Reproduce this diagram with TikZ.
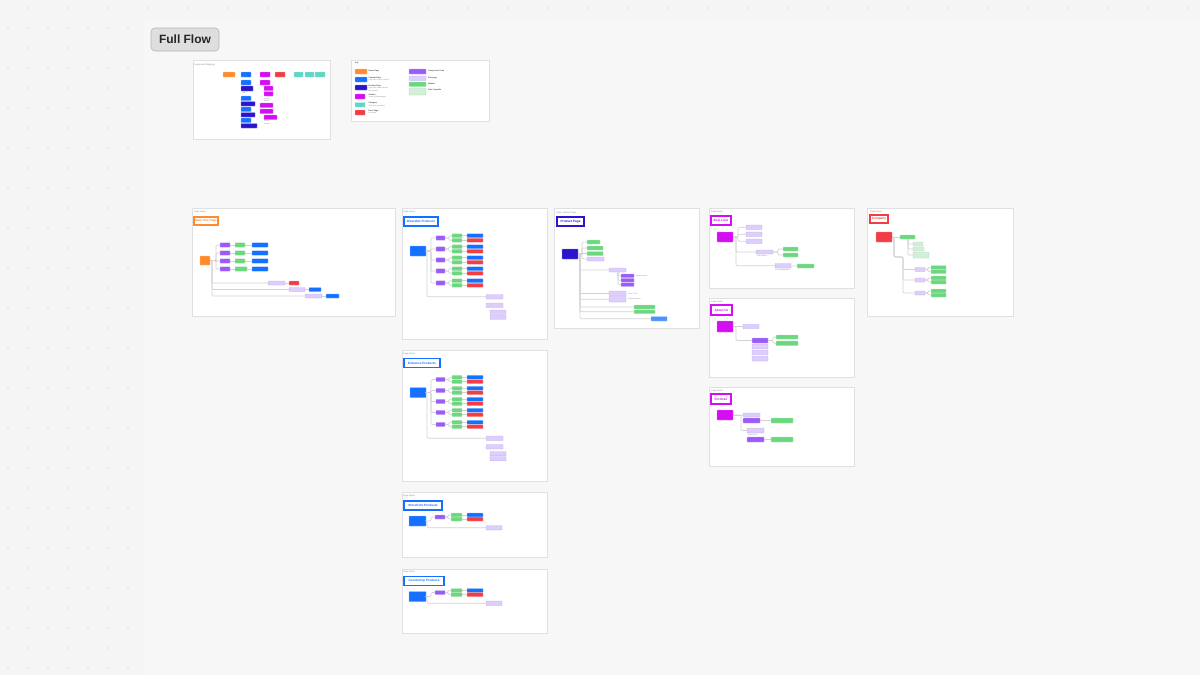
\documentclass[tikz,border=0pt]{standalone}
\usepackage{fontspec}
\setmainfont{Liberation Sans}
\usetikzlibrary{calc}
\definecolor{bgC}{HTML}{F5F5F5}
\definecolor{mainC}{HTML}{F7F7F7}
\definecolor{dotC}{HTML}{C4C4C4}
\definecolor{frameC}{HTML}{E0E0E0}
\definecolor{lineC}{HTML}{D2D2D2}
\definecolor{capC}{HTML}{8A8A8A}
\definecolor{orgC}{HTML}{FF8B2E}
\definecolor{bluC}{HTML}{1570FF}
\definecolor{drkC}{HTML}{2A14CC}
\definecolor{magC}{HTML}{D40DF2}
\definecolor{redC}{HTML}{F03E44}
\definecolor{tealC}{HTML}{5FD6C6}
\definecolor{purC}{HTML}{9A5BF8}
\definecolor{lavC}{HTML}{DDCEFC}
\definecolor{lavD}{HTML}{C4ADF7}
\definecolor{grnC}{HTML}{6CD77E}
\definecolor{lgrC}{HTML}{D3EFD9}
\definecolor{lgrD}{HTML}{A9DDB5}
\definecolor{lbC}{HTML}{4B95F7}
\definecolor{ffC}{HTML}{DEDEDE}
\definecolor{ffD}{HTML}{B5B5B5}
\tikzset{
  box/.style={inner sep=0pt, outer sep=0pt, rounded corners=0.5pt, line width=0.35pt},
  bO/.style={fill=orgC, draw=orgC!55},
  bB/.style={fill=bluC, draw=bluC!55},
  bD/.style={fill=drkC, draw=drkC!55},
  bM/.style={fill=magC, draw=magC!55},
  bR/.style={fill=redC, draw=redC!55},
  bT/.style={fill=tealC, draw=tealC!60},
  bP/.style={fill=purC, draw=purC!55},
  bL/.style={fill=lavC, draw=lavD},
  bG/.style={fill=grnC, draw=grnC!55},
  bLG/.style={fill=lgrC, draw=lgrD},
  bLB/.style={fill=lbC, draw=lbC!55},
  conn/.style={draw=lineC, line width=0.65pt, rounded corners=1.2pt},
  panel/.style={fill=white, draw=frameC, line width=0.6pt},
  pcap/.style={font=\fontsize{2.2}{2.5}\selectfont, text=capC, inner sep=0pt, anchor=west},
  tbox/.style={fill=white, line width=1.4pt, inner sep=0pt, outer sep=0pt, font=\bfseries\fontsize{3.1}{3.5}\selectfont},
  tiny/.style={font=\fontsize{1.7}{2}\selectfont, text=capC, inner sep=0pt, anchor=west},
  klab/.style={font=\bfseries\fontsize{1.9}{2.2}\selectfont, text=black!75, inner sep=0pt, anchor=west},
}
\newcommand\bx[6]{\node[box,#1,minimum width={(#5)-(#3)},minimum height={(#6)-(#4)}] (#2) at ({((#3)+(#5))/2},{((#4)+(#6))/2}) {};}
\newcommand\ttl[7]{\node[tbox,draw=#2,text=#2,minimum width={(#5)-(#3)},minimum height={(#6)-(#4)}] (#1) at ({((#3)+(#5))/2},{((#4)+(#6))/2}) {#7};}
\newcommand\prodpanel[4]{%
  \begin{scope}[shift={(0,#2)}]
  \node[pcap] (#1Cap) at (403,212) {Page Name};
  \ttl{#1Ti}{bluC}{404}{217}{#4}{226}{#3}
  \bx{bB}{#1R}{410}{246}{426}{256}
  \coordinate (#1T1) at (431,0);
  \coordinate (#1T2) at (427,0);
  \coordinate (#1T3) at (449,0);
  \foreach \n/\y in {1/238,2/249,3/260,4/271,5/283} {
    \bx{bP}{#1P\n}{436}{\y-2.2}{445}{\y+2.2}
    \bx{bG}{#1Ga\n}{452}{\y-4.2}{462}{\y-0.3}
    \bx{bG}{#1Gb\n}{452}{\y+0.3}{462}{\y+4.2}
    \bx{bB}{#1Xa\n}{467}{\y-4.2}{483}{\y-0.3}
    \bx{bR}{#1Xb\n}{467}{\y+0.3}{483}{\y+4.2}
    \draw[conn] (#1R.east) -- (#1R.east -| #1T1) |- (#1P\n.west);
    \draw[conn] (#1P\n.east) -- (#1P\n.east -| #1T3) |- (#1Ga\n.west);
    \draw[conn] (#1P\n.east) -- (#1P\n.east -| #1T3) |- (#1Gb\n.west);
    \draw[conn] (#1Ga\n) -- (#1Xa\n);
    \draw[conn] (#1Gb\n) -- (#1Xb\n);
  }
  \bx{bL}{#1L1}{486}{294.5}{503}{299}
  \bx{bL}{#1L2}{486}{303}{503}{307.5}
  \bx{bL}{#1L3}{490}{310}{506}{314.3}
  \bx{bL}{#1L4}{490}{315}{506}{319.3}
  \draw[conn] (#1R.east) -- (#1R.east -| #1T2) |- (#1L1.west);
  \end{scope}}
\newcommand\smallpanel[4]{%
  \begin{scope}[shift={(0,#2)}]
  \node[pcap] (#1Cap) at (403,496) {Page Name};
  \ttl{#1Ti}{bluC}{404}{501}{#4}{510}{#3}
  \bx{bB}{#1R}{409}{516}{426}{526}
  \coordinate (#1T1) at (431,0);
  \coordinate (#1T2) at (427,0);
  \coordinate (#1T3) at (448,0);
  \bx{bP}{#1P}{435}{515}{445}{519}
  \bx{bG}{#1Ga}{451}{513}{462}{516.8}
  \bx{bG}{#1Gb}{451}{517.2}{462}{521}
  \bx{bB}{#1Xa}{467}{513}{483}{516.8}
  \bx{bR}{#1Xb}{467}{517.2}{483}{521}
  \bx{bL}{#1L}{486}{525.5}{502}{530}
  \draw[conn] (#1R.east) -- (#1R.east -| #1T1) |- (#1P.west);
  \draw[conn] (#1P.east) -- (#1P.east -| #1T3) |- (#1Ga.west);
  \draw[conn] (#1P.east) -- (#1P.east -| #1T3) |- (#1Gb.west);
  \draw[conn] (#1Ga) -- (#1Xa);
  \draw[conn] (#1Gb) -- (#1Xb);
  \draw[conn] (#1R.east) -- (#1R.east -| #1T2) |- (#1L.west);
  \end{scope}}
\begin{document}
\begin{tikzpicture}[x=1pt,y=-1pt]
\useasboundingbox (0,0) rectangle (1200,675);
\fill[bgC] (0,0) rectangle (1200,675);
\fill[mainC] (143,20) rectangle (1200,675);
\foreach \i in {0,...,59} \fill[dotC] (\i*20+8,8) circle[radius=0.7pt];
\foreach \i in {0,...,6} \foreach \j in {1,...,33} \fill[dotC] (\i*20+8,\j*20+8) circle[radius=0.7pt];

% Full Flow label
\node[fill=ffC, draw=ffD, line width=0.6pt, rounded corners=4pt, minimum width=68pt, minimum height=23pt, inner sep=0pt, font=\bfseries\fontsize{12}{14}\selectfont, text=black!85] (ff) at (185,39.5) {Full Flow};

% panels
\foreach \a/\b/\c/\d in {193/60/330/139, 351/60/489/121, 192/208/395/316, 402/208/547/339, 554/208/699/328, 709/208/854/288, 709/298/854/377, 709/387/854/466, 867/208/1013/316, 402/350/547/481, 402/492/547/557, 402/569/547/633}
  \filldraw[panel] (\a,\b) rectangle (\c,\d);

% Component mapping
\node[pcap] (cmCap) at (194,64.5) {Component Mapping};
\bx{bO}{cm1}{223}{72}{235}{77}
\bx{bB}{cm2}{241}{72}{251}{77}
\bx{bM}{cm3}{260}{72}{270}{77}
\bx{bR}{cm4}{275}{72}{285}{77}
\bx{bT}{cm5}{294}{72}{303}{77}
\bx{bT}{cm6}{305}{72}{314}{77}
\bx{bT}{cm7}{315}{72}{325}{77}
\bx{bB}{cmb1}{241}{80}{251}{85}
\bx{bD}{cmb2}{241}{86}{253}{91}
\node[tiny] (cmt1) at (242,93) {Link};
\bx{bB}{cmb3}{241}{96}{251}{100.5}
\bx{bD}{cmb4}{241}{101.5}{255}{106}
\bx{bB}{cmb5}{241}{107}{251}{111.5}
\bx{bD}{cmb6}{241}{112.5}{255}{117}
\bx{bB}{cmb7}{241}{118}{251}{122.5}
\bx{bD}{cmb8}{241}{123.5}{257}{128}
\bx{bM}{cmm1}{260}{80}{270}{85}
\bx{bM}{cmm2}{264}{86}{273}{90.5}
\bx{bM}{cmm3}{264}{91.5}{273}{96}
\node[tiny] (cmt2) at (264,98.5) {Section};
\node[tiny] (cmt3) at (264,100.8) {Details};
\bx{bM}{cmm4}{260}{103}{273}{107.5}
\bx{bM}{cmm5}{260}{109}{273}{113.5}
\bx{bM}{cmm6}{264}{115}{277}{119.5}
\node[tiny] (cmt4) at (264,121.3) {Section};
\node[tiny] (cmt5) at (264,123.6) {Details};

% Key
\node[klab] (kT) at (355,63.5) {Key};
\bx{bO}{k1}{355}{69}{367}{74}
\node[klab] (k1t) at (368.5,71) {Home Page};
\bx{bB}{k2}{355}{77}{367}{82}
\node[klab] (k2t) at (368.5,78) {Content Page};
\node[tiny] (k2s) at (368.5,80.3) {Page with content sections};
\bx{bD}{k3}{355}{85}{367}{90}
\node[klab] (k3t) at (368.5,86) {Product Page};
\node[tiny] (k3s) at (368.5,88.3) {Page with product details};
\node[tiny] (k3u) at (368.5,90.5) {and variants};
\bx{bM}{k4}{355}{94}{365}{99}
\node[klab] (k4t) at (368.5,95) {Section};
\node[tiny] (k4s) at (368.5,97.3) {Group of related pages};
\bx{bT}{k5}{355}{102.5}{365}{107}
\node[klab] (k5t) at (368.5,103.5) {Category};
\node[tiny] (k5s) at (368.5,105.8) {Collection of products};
\bx{bR}{k6}{355}{110}{365}{115}
\node[klab] (k6t) at (368.5,111) {Error Page};
\node[tiny] (k6s) at (368.5,113.3) {Not found};
\bx{bP}{k7}{409}{69}{426}{74}
\node[klab] (k7t) at (428,71) {Component / Link};
\bx{bL}{k8}{409}{76}{426}{80.5}
\node[klab] (k8t) at (428,78) {Sub-page};
\bx{bG}{k9}{409}{82}{426}{86.5}
\node[klab] (k9t) at (428,84) {Module};
\bx{bLG}{k10}{409}{88}{426}{95}
\node[klab] (k10t) at (428,90) {Data / Variable};

% Panel A
\node[pcap] (aCap) at (194,212) {Page Name};
\ttl{aTi}{orgC}{194}{217}{218}{225}{Main Use Page}
\bx{bO}{aR}{200}{256}{210}{265}
\coordinate (aT1) at (216,0);
\coordinate (aT2) at (212,0);
\foreach \n/\y/\gw in {1/245/245,2/253/245,3/261/245,4/269/247} {
  \bx{bP}{aP\n}{220}{\y-2.2}{230}{\y+2.2}
  \bx{bG}{aG\n}{235}{\y-2.2}{\gw}{\y+2.2}
  \bx{bB}{aB\n}{252}{\y-2.2}{268}{\y+2.2}
  \draw[conn] (aR.east) -- (aR.east -| aT1) |- (aP\n.west);
  \draw[conn] (aP\n) -- (aG\n);
  \draw[conn] (aG\n) -- (aB\n);
}
\bx{bL}{aL1}{268}{281}{285}{285}
\bx{bR}{aX1}{289}{281}{299}{285}
\bx{bL}{aL2}{289}{287.5}{305}{291.5}
\bx{bB}{aX2}{309}{287.5}{321}{291.5}
\bx{bL}{aL3}{305}{294}{322}{298}
\bx{bB}{aX3}{326}{294}{339}{298}
\foreach \n in {1,2,3} {
  \draw[conn] (aR.east) -- (aR.east -| aT2) |- (aL\n.west);
  \draw[conn] (aL\n) -- (aX\n);
}

% Product panels
\prodpanel{b}{0}{Wearable Products}{438}
\prodpanel{g}{141.5}{Entrance Products}{440}
\smallpanel{h}{0}{Storefront Products}{442}
\smallpanel{k}{75.5}{Countertop Products}{444}

% Panel C
\node[pcap] (cCap) at (556,212.5) {Page: Product Page};
\ttl{cTi}{drkC}{557}{217}{584}{226}{Product Page}
\bx{bD}{cR}{562}{249}{578}{259}
\coordinate (cT1) at (582,0);
\coordinate (cT2) at (580,0);
\coordinate (cT3) at (618,0);
\bx{bG}{cA1}{587}{240}{600}{244}
\bx{bG}{cA2}{587}{246}{603}{250}
\bx{bG}{cA3}{587}{251.5}{603}{255.5}
\bx{bL}{cA4}{587}{257}{604}{261}
\foreach \n in {1,...,4} \draw[conn] (cR.east) -- (cR.east -| cT1) |- (cA\n.west);
\bx{bL}{cB1}{609}{268}{626}{272}
\bx{bP}{cP1}{621}{274}{634}{277.6}
\bx{bP}{cP2}{621}{278.4}{634}{282}
\bx{bP}{cP3}{621}{282.8}{634}{286.4}
\foreach \n in {1,2,3} \draw[conn] (cB1.south -| cT3) |- (cP\n.west);
\node[tiny] (cPt) at (636,276) {Variant options};
\bx{bL}{cB2}{609}{291}{626}{296}
\bx{bL}{cB3}{609}{296.5}{626}{302}
\node[tiny] (cB2t) at (628,293.5) {Price / Total};
\node[tiny] (cB3t) at (628,299.5) {Quantity selector};
\bx{bG}{cG1}{634}{305}{655}{309}
\bx{bG}{cG2}{634}{310}{655}{313.5}
\bx{bLB}{cX}{651}{316.5}{667}{321}
\foreach \m in {cB1,cB2,cB3,cG1,cG2,cX} \draw[conn] (cR.east) -- (cR.east -| cT2) |- (\m.west);

% Panel D1
\node[pcap] (dCap) at (711,212) {Page Name};
\ttl{dTi}{magC}{711}{216}{731}{225}{Best Lists}
\bx{bM}{dR}{717}{232}{733}{242}
\coordinate (dT1) at (738,0);
\coordinate (dT2) at (736,0);
\coordinate (dT3) at (778,0);
\bx{bL}{dA1}{746}{225}{762}{229.5}
\bx{bL}{dA2}{746}{232}{762}{236.5}
\bx{bL}{dA3}{746}{239}{762}{243.5}
\foreach \n in {1,2,3} \draw[conn] (dR.east) -- (dR.east -| dT1) |- (dA\n.west);
\bx{bL}{dB1}{756}{250}{773}{254}
\bx{bG}{dG1}{783}{247}{798}{251}
\bx{bG}{dG2}{783}{253}{798}{257}
\bx{bL}{dB2}{775}{263.5}{791}{268}
\bx{bG}{dG3}{797}{264}{814}{268}
\draw[conn] (dR.east) -- (dR.east -| dT2) |- (dB1.west);
\draw[conn] (dR.east) -- (dR.east -| dT2) |- (dB2.west);
\draw[conn] (dB1.east) -- (dB1.east -| dT3) |- (dG1.west);
\draw[conn] (dB1.east) -- (dB1.east -| dT3) |- (dG2.west);
\draw[conn] (dB2) -- (dG3);
\node[tiny] (dB1t) at (757,256.5) {Filter options};
\node[tiny] (dB2t) at (775,270.5) {Sort and pagination};

% Panel D2
\node[pcap] (eCap) at (711,302) {Page Name};
\ttl{eTi}{magC}{711}{305}{732}{315}{About Us}
\bx{bM}{eR}{717}{321}{733}{332}
\coordinate (eT1) at (736,0);
\coordinate (eT2) at (773,0);
\bx{bL}{eA}{743}{324.3}{759}{328.7}
\bx{bP}{eP}{752}{338}{768}{343}
\bx{bG}{eG1}{776}{335}{798}{339}
\bx{bG}{eG2}{776}{341}{798}{345.5}
\bx{bL}{eL1}{752}{344}{768}{348.8}
\bx{bL}{eL2}{752}{350}{768}{354.5}
\bx{bL}{eL3}{752}{356}{768}{361}
\draw[conn] (eR.east) -- (eA.west);
\draw[conn] (eR.east) -- (eR.east -| eT1) |- (eP.west);
\draw[conn] (eP.east) -- (eP.east -| eT2) |- (eG1.west);
\draw[conn] (eP.east) -- (eP.east -| eT2) |- (eG2.west);

% Panel D3
\node[pcap] (fCap) at (711,391) {Page Name};
\ttl{fTi}{magC}{711}{394}{731}{404}{Portfolio}
\bx{bM}{fR}{717}{410}{733}{420}
\coordinate (fT1) at (741,0);
\bx{bL}{fA}{743}{413}{760}{417}
\bx{bP}{fP}{743}{418}{760}{423}
\bx{bG}{fG}{771}{418}{793}{423}
\bx{bL}{fB}{747}{428}{764}{433}
\bx{bP}{fQ}{747}{437}{764}{442}
\bx{bG}{fH}{771}{437}{793}{442}
\node[tiny] (fBt) at (748,434.8) {Project item};
\draw[conn] (fR.east) -- (fA.west);
\draw[conn] (fR.east) -- (fR.east -| fT1) |- (fB.west);
\draw[conn] (fP) -- (fG);
\draw[conn] (fQ) -- (fH);

% Panel E
\node[pcap] (pCap) at (870,212) {Page Name};
\ttl{pTi}{redC}{870}{215}{888}{223}{Company}
\bx{bR}{pR}{876}{232}{892}{242}
\bx{bG}{pG}{900}{235}{915}{239}
\coordinate (pT0) at (894,0);
\coordinate (pT3) at (908,0);
\coordinate (pT4) at (928,0);
\coordinate (pK) at (903,257);
\draw[conn] (pR) -- (pG);
\bx{bLG}{pS1}{913}{242}{923}{246}
\bx{bLG}{pS2}{913}{247}{924}{251}
\bx{bLG}{pS3}{913}{252}{929}{258}
\foreach \n in {1,2,3} \draw[conn] (pG.south -| pT3) |- (pS\n.west);
\foreach \n/\y/\ya/\yb in {1/269.5/265.5/273.5, 2/280/276/284, 3/293/289/297} {
  \bx{bL}{pL\n}{915}{\y-2}{925}{\y+2}
  \bx{bG}{pM\n}{931}{\ya}{946}{\y-0.2}
  \bx{bG}{pN\n}{931}{\y+0.2}{946}{\yb}
  \draw[conn] (pR.east) -- (pR.east -| pT0) |- (pK) |- (pL\n.west);
  \draw[conn] (pL\n.east) -- (pL\n.east -| pT4) |- (pM\n.west);
  \draw[conn] (pL\n.east) -- (pL\n.east -| pT4) |- (pN\n.west);
}
\end{tikzpicture}
\end{document}
